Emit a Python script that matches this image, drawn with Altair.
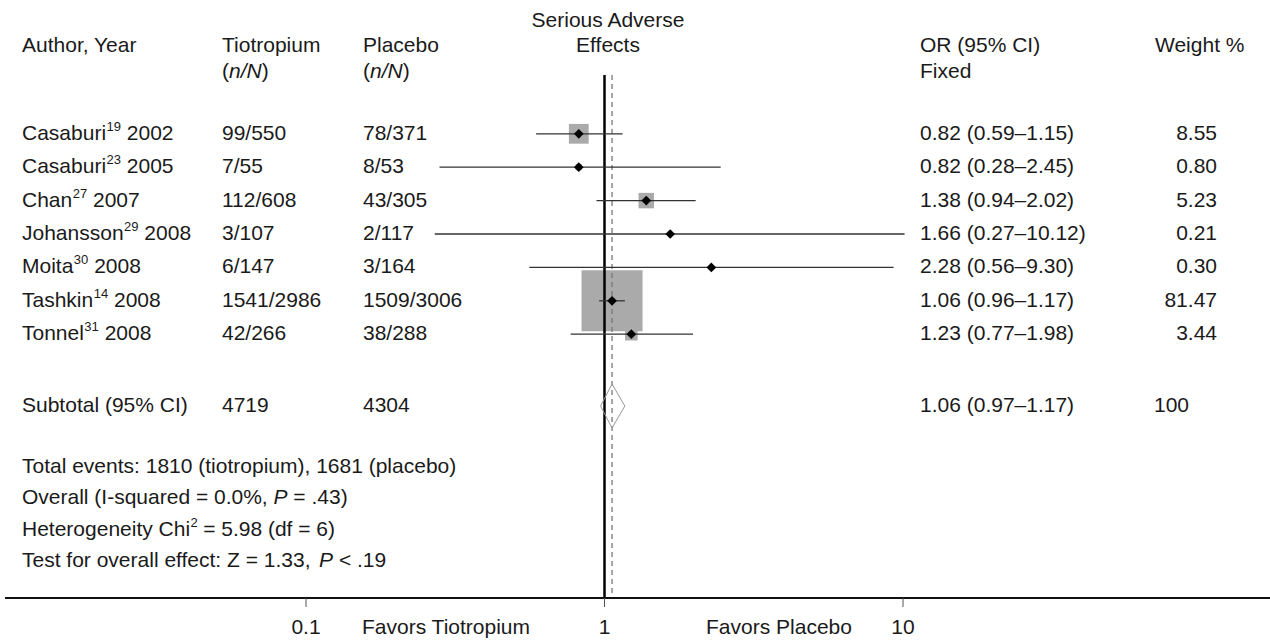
import altair as alt
import pandas as pd

# ---------------- data ----------------
authors = ["Casaburi", "Casaburi", "Chan", "Johansson", "Moita", "Tashkin", "Tonnel"]
refs = ["19", "23", "27", "29", "30", "14", "31"]
years = ["2002", "2005", "2007", "2008", "2008", "2008", "2008"]
tio_events = [99, 7, 112, 3, 6, 1541, 42]
tio_total = [550, 55, 608, 107, 147, 2986, 266]
pla_events = [78, 8, 43, 2, 3, 1509, 38]
pla_total = [371, 53, 305, 117, 164, 3006, 288]
odds = [0.82, 0.82, 1.38, 1.66, 2.28, 1.06, 1.23]
ci_low = [0.59, 0.28, 0.94, 0.27, 0.56, 0.96, 0.77]
ci_high = [1.15, 2.45, 2.02, 10.12, 9.30, 1.17, 1.98]
weights = [8.55, 0.80, 5.23, 0.21, 0.30, 81.47, 3.44]

sub_or, sub_lo, sub_hi = 1.06, 0.97, 1.17
sub_tio, sub_pla, sub_weight = 4719, 4304, 100
events_tio, events_pla = 1810, 1681

tick_values = [0.1, 1, 10]
tick_labels = ["0.1", "1", "10"]

# ---------------- layout helpers ----------------
FONT = "Liberation Sans"
FS = 21
SUP = 13
INK = "#1a1a1a"

AW = {c: 556 for c in "0123456789"}
AW.update({" ": 278, ".": 278, ",": 278, ":": 278, "(": 333, ")": 333, "=": 584,
           "%": 889, "-": 333, "<": 584, "/": 278, "²": 333})
AW.update(dict(zip("abcdefghijklmnopqrstuvwxyz",
                   [556, 556, 500, 556, 556, 278, 556, 556, 222, 222, 500, 222, 833,
                    556, 556, 556, 556, 333, 500, 278, 556, 500, 722, 500, 500, 500])))
AW.update(dict(zip("ABCDEFGHIJKLMNOPQRSTUVWXYZ",
                   [667, 667, 722, 722, 667, 611, 778, 722, 278, 500, 667, 556, 833,
                    722, 778, 667, 778, 722, 667, 611, 722, 667, 944, 667, 667, 611])))
KERN = {"Ta": -111, "To": -111}


def tw(s, size=FS):
    w = sum(AW.get(c, 556) for c in s)
    w += sum(KERN.get(s[i:i + 2], 0) for i in range(len(s) - 1))
    return w * size / 1000.0


one = alt.Data(values=[{"k": 1}])


def txt(t, x, y, align="left", italic=False, size=FS, dy=0):
    return alt.Chart(one).mark_text(
        font=FONT, fontSize=size, color=INK, align=align, baseline="middle",
        fontStyle="italic" if italic else "normal", dy=dy,
    ).encode(x=alt.value(x), y=alt.value(y), text=alt.value(t))


# ---------------- tables ----------------
n = len(authors)
SUB_ROW = 8.15
LX = 22
studies = pd.DataFrame({
    "row": list(range(n)),
    "author": authors,
    "ref": refs,
    "year": years,
    "sx": [LX + tw(a) + 0.5 for a in authors],
    "yx": [LX + tw(a) + tw(r, SUP) + tw(" ") + 0.5 for a, r in zip(authors, refs)],
    "tio": [f"{e}/{t}" for e, t in zip(tio_events, tio_total)],
    "pla": [f"{e}/{t}" for e, t in zip(pla_events, pla_total)],
    "ortxt": [f"{o:.2f} ({l:.2f}–{h:.2f})" for o, l, h in zip(odds, ci_low, ci_high)],
    "wtxt": [f"{w:.2f}" for w in weights],
    "est": odds, "lo": ci_low, "hi": ci_high, "w": weights,
})

HALF = 0.66
diamond = pd.DataFrame({
    "dx": [sub_lo, sub_or, sub_hi, sub_or, sub_lo],
    "dy": [SUB_ROW, SUB_ROW - HALF, SUB_ROW, SUB_ROW + HALF, SUB_ROW],
    "o": [0, 1, 2, 3, 4],
})

xs = alt.Scale(type="log", domain=[0.1, 10], range=[306, 903], nice=False, clamp=False)
ys = alt.Scale(domain=[0, 6], range=[133.8, 334.2], nice=False, zero=False)
Y = alt.Y("row:Q", scale=ys, axis=None)

base = alt.Chart(studies)

squares = base.mark_square(color="#aaaaaa", opacity=1).encode(
    x=alt.X("est:Q", scale=xs, axis=None), y=Y,
    size=alt.Size("w:Q", scale=alt.Scale(domain=[0, 100], range=[0, 4570]), legend=None),
)

ref_line = alt.Chart(pd.DataFrame({"v": [1.0]})).mark_rule(color="#000000", strokeWidth=2.5).encode(
    x=alt.X("v:Q", scale=xs, axis=None), y=alt.value(75), y2=alt.value(598))

pooled_line = alt.Chart(pd.DataFrame({"v": [sub_or]})).mark_rule(
    color="#777777", strokeWidth=1.3, strokeDash=[5, 4]).encode(
    x=alt.X("v:Q", scale=xs, axis=None), y=alt.value(75), y2=alt.value(598))

ci = base.mark_rule(color="#333333", strokeWidth=1.3).encode(
    x=alt.X("lo:Q", scale=xs, axis=None), x2="hi:Q", y=Y)

points = base.mark_point(shape="diamond", filled=True, color="#000000", size=95, opacity=1).encode(
    x=alt.X("est:Q", scale=xs, axis=None), y=Y)

dia = alt.Chart(diamond).mark_line(color="#999999", strokeWidth=1).encode(
    x=alt.X("dx:Q", scale=xs, axis=None), y=alt.Y("dy:Q", scale=ys, axis=None),
    order="o:Q")

tstyle = dict(font=FONT, fontSize=FS, color=INK, baseline="middle")
col_author = base.mark_text(align="left", **tstyle).encode(
    x=alt.value(LX), y=Y, text="author:N")
col_ref = base.mark_text(align="left", font=FONT, fontSize=SUP, color=INK,
                         baseline="middle", dy=-7).encode(
    x=alt.X("sx:Q", scale=None, axis=None), y=Y, text="ref:N")
col_year = base.mark_text(align="left", **tstyle).encode(
    x=alt.X("yx:Q", scale=None, axis=None), y=Y, text="year:N")
col_tio = base.mark_text(align="left", **tstyle).encode(x=alt.value(222), y=Y, text="tio:N")
col_pla = base.mark_text(align="left", **tstyle).encode(x=alt.value(363), y=Y, text="pla:N")
col_or = base.mark_text(align="left", **tstyle).encode(x=alt.value(920), y=Y, text="ortxt:N")
col_w = base.mark_text(align="right", **tstyle).encode(x=alt.value(1217), y=Y, text="wtxt:N")

sub_df = pd.DataFrame({"row": [SUB_ROW], "a": ["Subtotal (95% CI)"], "b": [str(sub_tio)],
                       "c": [str(sub_pla)], "d": [f"{sub_or:.2f} ({sub_lo:.2f}–{sub_hi:.2f})"],
                       "e": [str(sub_weight)]})
sb = alt.Chart(sub_df)
sub_layers = [
    sb.mark_text(align="left", **tstyle).encode(x=alt.value(xp), y=Y, text=f"{f}:N")
    for f, xp in [("a", LX), ("b", 222), ("c", 363), ("d", 920), ("e", 1154)]
]

# axis
axis_line = alt.Chart(one).mark_rule(color="#111111", strokeWidth=2).encode(
    x=alt.value(5), x2=alt.value(1270), y=alt.value(598))
tick_df = pd.DataFrame({"t": tick_values, "lab": tick_labels})
tick_marks = alt.Chart(tick_df).mark_rule(color="#555555", strokeWidth=1).encode(
    x=alt.X("t:Q", scale=xs, axis=None), y=alt.value(598), y2=alt.value(607))
tick_text = alt.Chart(tick_df).mark_text(align="center", **tstyle).encode(
    x=alt.X("t:Q", scale=xs, axis=None), y=alt.value(628), text="lab:N")

# header & footers
headers = [
    txt("Serious Adverse", 608, 21, align="center"),
    txt("Effects", 608, 46, align="center"),
    txt("Author, Year", LX, 46),
    txt("Tiotropium", 222, 46),
    txt("Placebo", 363, 46),
    txt("OR (95% CI)", 920, 46),
    txt("Fixed", 920, 72),
    txt("Weight %", 1155, 46),
]
for cx in (222, 363):
    headers += [txt("(", cx, 72), txt("n/N", cx + tw("("), 72, italic=True),
                txt(")", cx + tw("(") + tw("n/N"), 72)]

footers = [
    txt(f"Total events: {events_tio} (tiotropium), {events_pla} (placebo)", LX, 467),
    txt("Heterogeneity Chi", LX, 530),
    txt("2", LX + tw("Heterogeneity Chi") + 0.5, 530, size=SUP, dy=-7),
    txt("= 5.98 (df = 6)", LX + tw("Heterogeneity Chi ") + tw("2", SUP), 530),
]
s1 = "Overall (I-squared = 0.0%,"
footers += [txt(s1, LX, 498), txt("P", LX + tw(s1 + " "), 498, italic=True),
            txt("= .43)", LX + tw(s1 + " P "), 498)]
s2 = "Test for overall effect: Z = 1.33,"
footers += [txt(s2, LX, 561), txt("P", LX + tw(s2 + " "), 561, italic=True),
            txt("< .19", LX + tw(s2 + " P "), 561)]
footers += [txt("Favors Tiotropium", 446, 628, align="center"),
            txt("Favors Placebo", 779, 628, align="center")]

chart = alt.layer(
    squares, ref_line, pooled_line, ci, points, dia,
    col_author, col_ref, col_year, col_tio, col_pla, col_or, col_w, *sub_layers,
    axis_line, tick_marks, tick_text, *headers, *footers,
).properties(
    width=1270, height=598,
    padding={"left": 0, "top": 0, "right": 0, "bottom": 45},
    autosize=alt.AutoSizeParams(type="none"),
    background="white",
).configure_view(stroke=None)

chart.save("out.html", embed_options={"renderer": "svg", "actions": False})
